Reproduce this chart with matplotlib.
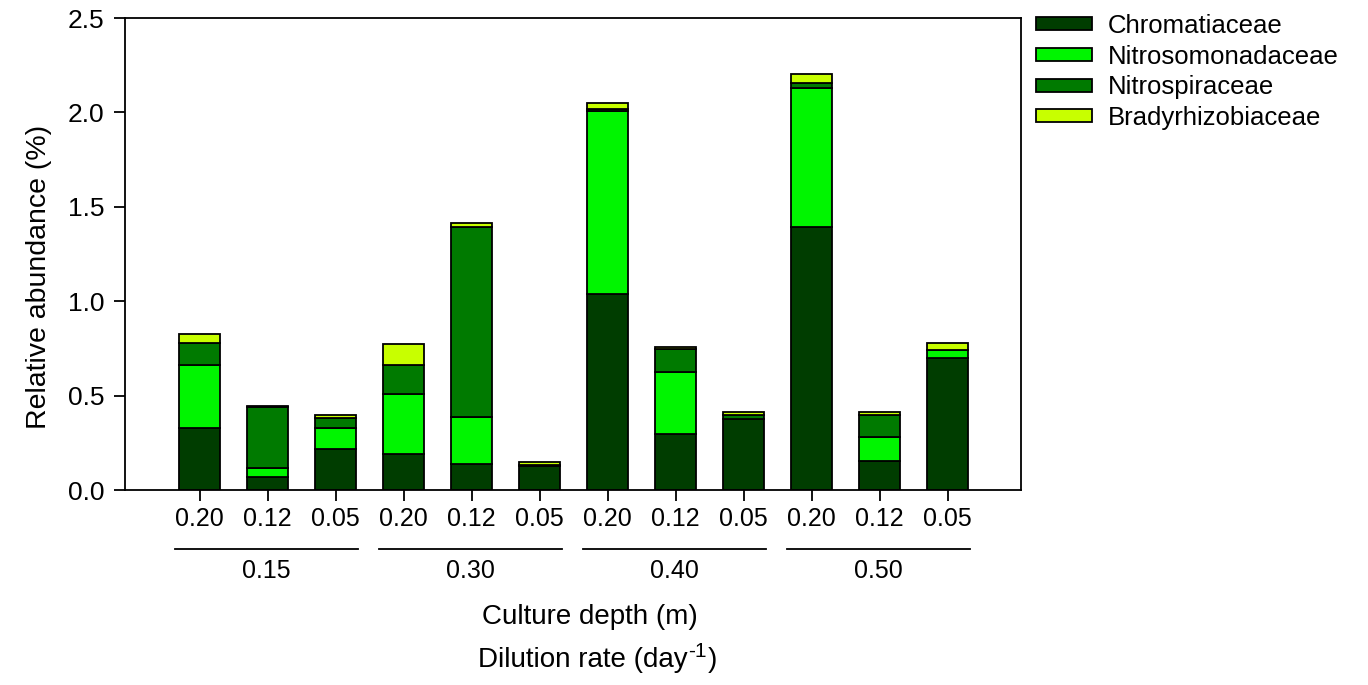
import matplotlib
matplotlib.use('Agg')
import matplotlib.pyplot as plt
import matplotlib.transforms as mtransforms
import numpy as np

plt.rcParams['font.family'] = ['Liberation Sans', 'DejaVu Sans']

# dilution rate under each bar, culture depth for each group of three
dilution = ['0.20', '0.12', '0.05'] * 4
depths = ['0.15', '0.30', '0.40', '0.50']

chromatiaceae = [0.33, 0.07, 0.217, 0.19, 0.138, 0.127, 1.04, 0.295, 0.375, 1.395, 0.154, 0.70]
nitrosomonadaceae = [0.33, 0.048, 0.113, 0.317, 0.247, 0.003, 0.965, 0.33, 0.003, 0.735, 0.129, 0.04]
nitrospiraceae = [0.12, 0.323, 0.05, 0.156, 1.01, 0.003, 0.015, 0.12, 0.018, 0.027, 0.113, 0.002]
bradyrhizobiaceae = [0.045, 0.003, 0.017, 0.11, 0.02, 0.015, 0.028, 0.012, 0.015, 0.045, 0.015, 0.035]

families = ['Chromatiaceae', 'Nitrosomonadaceae', 'Nitrospiraceae', 'Bradyrhizobiaceae']
colors = ['#003d00', '#00f500', '#007a00', '#c8ff00']

fig = plt.figure(figsize=(13.68, 6.85), dpi=100)
ax = fig.add_axes([125/1368, 1 - 490/685, (1021-125)/1368, (490-18)/685])

x = np.arange(len(dilution))
bottom = np.zeros(len(x))
for vals, name, c in zip([chromatiaceae, nitrosomonadaceae, nitrospiraceae, bradyrhizobiaceae], families, colors):
    ax.bar(x, vals, width=0.6, bottom=bottom, color=c, edgecolor='black', linewidth=1.3, label=name)
    bottom += np.array(vals)

ax.set_xlim(-1.1, 12.08)
ax.set_ylim(0, 2.5)
ax.set_yticks(np.arange(0, 2.51, 0.5))
ax.set_yticklabels([f'{v:.1f}' for v in np.arange(0, 2.51, 0.5)])
ax.set_xticks(x)
ax.set_xticklabels(dilution)
ax.tick_params(axis='x', direction='out', length=8, width=1.3, labelsize=18, pad=4)
ax.tick_params(axis='y', direction='out', length=8, width=1.3, labelsize=19, pad=7)
for s in ax.spines.values():
    s.set_linewidth(1.3)

ax.set_ylabel('Relative abundance (%)', fontsize=20.5)
ax.yaxis.set_label_coords(-0.081, 0.451)

# group lines and culture depth labels
trans = mtransforms.blended_transform_factory(ax.transData, ax.transAxes)
for g, d in enumerate(depths):
    x0, x1 = 3*g - 0.36, 3*g + 2 + 0.33
    ax.plot([x0, x1], [-0.125, -0.125], color='black', lw=1.3, transform=trans, clip_on=False)
    ax.text((x0 + x1)/2, -0.171, d, transform=trans, ha='center', va='center', fontsize=18)

fig.text(590/1368, 1 - 617/685, 'Culture depth (m)', ha='center', va='center', fontsize=20)

# second axis title with a large superscript, built from three pieces
t1 = fig.text(478/1368, 1 - 667/685, 'Dilution rate (day', ha='left', va='baseline', fontsize=20)
t2 = ax.annotate('-1', xy=(1, 0), xycoords=t1, xytext=(0.5, 11.5), textcoords='offset points',
                 ha='left', va='baseline', fontsize=15, annotation_clip=False)
t3 = ax.annotate(')', xy=(1, 0), xycoords=(t2, t1), xytext=(0.5, 0), textcoords='offset points',
                 ha='left', va='bottom', fontsize=20, annotation_clip=False)

fig.legend(loc='upper left', bbox_to_anchor=(1036/1368, 1 - 14/685), frameon=False,
           fontsize=18.5, handlelength=2.18, handleheight=0.4, handletextpad=0.6,
           labelspacing=0.26, borderpad=0, borderaxespad=0)

fig.savefig('out.png', dpi=100)
